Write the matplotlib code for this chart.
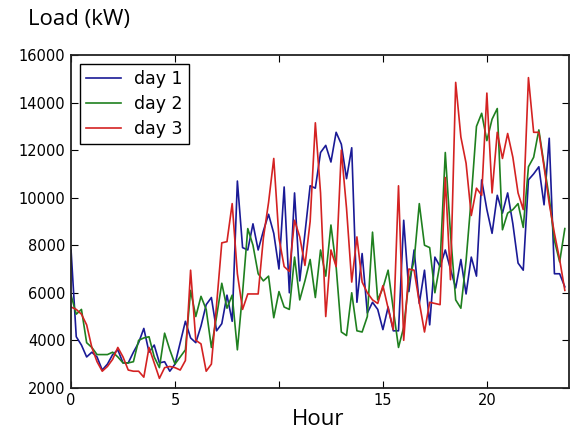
import numpy as np
import matplotlib
matplotlib.use("Agg")
import matplotlib.pyplot as plt

# --- data: load every 15 minutes ---
hours = np.arange(96) * 0.25

day1 = [7800, 4150, 3800, 3300, 3500, 3300, 2750, 3000,
        3400, 3600, 3050, 3050, 3500, 3900, 4500, 3500,
        3800, 3050, 3100, 2700, 3000, 3900, 4800, 4100,
        3900, 4600, 5500, 5800, 4400, 4700, 5900, 4800,
        10700, 7900, 7800, 8900, 7800, 8600, 9300, 8500,
        7000, 10450, 6000, 10200, 6500, 8500, 10500, 10400,
        11900, 12200, 11500, 12750, 12250, 10800, 12100, 5600,
        7650, 5150, 5600, 5300, 4450, 5400, 4400, 4400,
        9050, 6050, 7800, 5550, 6950, 4650, 7500, 7100,
        7800, 7000, 6200, 7400, 5950, 7500, 6700, 10750,
        9500, 8500, 10100, 9350, 10200, 8900, 7250, 6950,
        10750, 11000, 11300, 9700, 12500, 6800, 6800, 6250]

day2 = [5900, 5100, 5300, 3900, 3700, 3400, 3400, 3400,
        3500, 3300, 3050, 3050, 3100, 4000, 4100, 4150,
        3300, 2850, 4300, 3600, 3000, 3300, 3600, 6100,
        5000, 5850, 5300, 3700, 5000, 6400, 5350, 5900,
        3600, 6000, 8700, 8000, 6800, 6500, 6700, 4950,
        6050, 5400, 5300, 7500, 5700, 6500, 7400, 5800,
        7800, 6700, 8850, 7100, 4350, 4200, 6000, 4400,
        4350, 5000, 8550, 5700, 6200, 6950, 5300, 3700,
        4550, 6500, 7350, 9750, 8000, 7900, 6000, 7250,
        11900, 8500, 5700, 5350, 7350, 10000, 13000, 13550,
        12400, 13300, 13750, 8650, 9350, 9500, 9750, 8750,
        11300, 11700, 12850, 11400, 10000, 8200, 7300, 8700]

day3 = [5400, 5300, 5100, 4650, 3700, 3100, 2700, 2900,
        3200, 3700, 3300, 2750, 2700, 2700, 2450, 3700,
        3050, 2400, 2850, 2900, 2850, 2750, 3150, 6950,
        4000, 3850, 2700, 3000, 5500, 8100, 8150, 9750,
        6800, 5300, 5950, 5950, 5950, 8300, 9800, 11650,
        8300, 7100, 6900, 9050, 8350, 7150, 9000, 13150,
        10200, 5000, 7800, 7100, 12000, 9550, 6450, 8350,
        6450, 6000, 5700, 5550, 6300, 5350, 4450, 10500,
        4000, 7000, 6950, 5600, 4350, 5600, 5550, 5500,
        10850, 6550, 14850, 12550, 11450, 9250, 10400, 10100,
        14400, 10200, 12750, 11650, 12700, 11700, 10200, 9500,
        15050, 12750, 12750, 11300, 9750, 8500, 7400, 6100]

series_names = ['day 1', 'day 2', 'day 3']
series_colors = ['#1a1a96', '#1f801f', '#d42222']
xticks = [0, 5, 10, 15, 20]
xtick_labels = ['0', '5', '', '15', '20']
yticks = [2000, 4000, 6000, 8000, 10000, 12000, 14000, 16000]

fig = plt.figure(figsize=(5.73, 4.30), dpi=100)
ax = fig.add_axes([0.124, 0.098, 0.869, 0.774])

for vals, name, col in zip([day1, day2, day3], series_names, series_colors):
    ax.plot(hours, vals, color=col, linewidth=1.2, label=name)

ax.set_xlim(0, 23.95)
ax.set_ylim(2000, 16000)
ax.set_xticks(xticks)
ax.set_xticklabels(xtick_labels)
ax.set_yticks(yticks)
ax.tick_params(direction='in', top=True, right=True, length=5, width=0.8,
               labelsize=10.5, pad=4)
for sp in ax.spines.values():
    sp.set_linewidth(1.3)
    sp.set_color('#222222')

leg = ax.legend(loc='upper left', fontsize=12.5, fancybox=False, framealpha=1,
                handlelength=2.0, borderpad=0.35, labelspacing=0.4,
                bbox_to_anchor=(0.0, 1.0), borderaxespad=0.5)
leg.get_frame().set_edgecolor('black')
leg.get_frame().set_linewidth(1.0)

fig.text(0.048, 0.955, 'Load (kW)', fontsize=16, family='Open Sans', va='center')
fig.text(0.555, 0.025, 'Hour', fontsize=16, family='Open Sans', ha='center', va='center')

plt.savefig('out.png', dpi=100)
